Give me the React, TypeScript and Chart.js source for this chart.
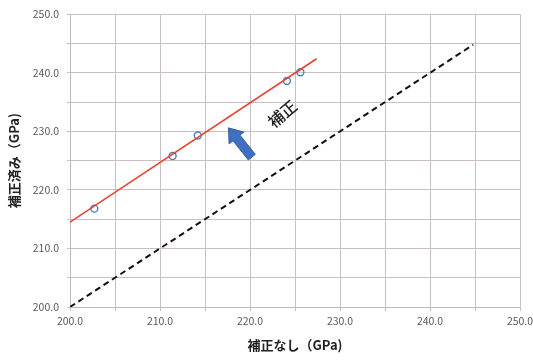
import React, { useEffect, useRef } from "react";
import { Chart, registerables } from "chart.js";

Chart.register(...registerables);

const measuredX = [202.7, 211.4, 214.2, 224.1, 225.6];
const measuredY = [216.8, 225.8, 229.3, 238.6, 240.1];
const fitX = [200, 227.4];
const fitY = [214.5, 242.4];
const identityX = [200, 244.8];
const identityY = [200, 244.8];
const arrowTail = [220.2, 225.6];
const arrowTip = [217.6, 230.6];
const labelPos = [223.6, 233.0];
const labelText = "補正";
const xTitle = "補正なし（GPa)";
const yTitle = "補正済み（GPa)";

const FONT = "'Noto Sans CJK JP', 'Noto Sans', sans-serif";

const arrowPlugin = {
  id: "arrowLabel",
  afterDatasetsDraw(chart: any) {
    const { ctx, scales } = chart;
    const xs = scales.x, ys = scales.y;
    const tx = xs.getPixelForValue(arrowTail[0]);
    const ty = ys.getPixelForValue(arrowTail[1]);
    const hx = xs.getPixelForValue(arrowTip[0]);
    const hy = ys.getPixelForValue(arrowTip[1]);
    const ang = Math.atan2(hy - ty, hx - tx);
    const len = Math.hypot(hx - tx, hy - ty);
    const headLen = 13;
    const headW = 9.5;
    const shaftW = 4.5;
    ctx.save();
    ctx.translate(tx, ty);
    ctx.rotate(ang);
    ctx.beginPath();
    ctx.moveTo(0, -shaftW);
    ctx.lineTo(len - headLen, -shaftW);
    ctx.lineTo(len - headLen, -headW);
    ctx.lineTo(len, 0);
    ctx.lineTo(len - headLen, headW);
    ctx.lineTo(len - headLen, shaftW);
    ctx.lineTo(0, shaftW);
    ctx.closePath();
    ctx.fillStyle = "#3f6fbf";
    ctx.fill();
    ctx.strokeStyle = "#2f5597";
    ctx.lineWidth = 0.8;
    ctx.stroke();
    ctx.restore();

    const lx = xs.getPixelForValue(labelPos[0]);
    const ly = ys.getPixelForValue(labelPos[1]);
    ctx.save();
    ctx.translate(lx, ly);
    ctx.rotate(-40 * Math.PI / 180);
    ctx.font = `500 16px ${FONT}`;
    ctx.fillStyle = "#222";
    ctx.textAlign = "center";
    ctx.textBaseline = "middle";
    ctx.fillText(labelText, 0, 0);
    ctx.restore();
  },
};

export default function App() {
  const ref = useRef<HTMLCanvasElement>(null);
  useEffect(() => {
    document.body.style.margin = "0";
    const chart = new Chart(ref.current!, {
      type: "scatter",
      data: {
        datasets: [
          {
            label: "identity",
            data: identityX.map((x, i) => ({ x, y: identityY[i] })),
            showLine: true,
            borderColor: "#111",
            borderWidth: 2,
            borderDash: [6, 4],
            pointRadius: 0,
          },
          {
            label: "fit",
            data: fitX.map((x, i) => ({ x, y: fitY[i] })),
            showLine: true,
            borderColor: "#e8432e",
            borderWidth: 1.6,
            pointRadius: 0,
          },
          {
            label: "measured",
            data: measuredX.map((x, i) => ({ x, y: measuredY[i] })),
            showLine: false,
            pointRadius: 3.5,
            pointBorderWidth: 1.4,
            pointBorderColor: "#4a7ebb",
            pointBackgroundColor: "rgba(255,255,255,0)",
          },
        ],
      },
      options: {
        animation: false,
        responsive: false,
        maintainAspectRatio: false,
        layout: { padding: { top: 12, right: 13, left: 6, bottom: 7 } },
        plugins: { legend: { display: false }, tooltip: { enabled: false } },
        scales: {
          x: {
            type: "linear",
            min: 200,
            max: 250,
            border: { color: "#c4b8b8", width: 1 },
            grid: { color: "#cbbfbf", lineWidth: 1, tickLength: 4, drawTicks: true },
            ticks: {
              stepSize: 5,
              autoSkip: false,
              maxRotation: 0,
              color: "#595959",
              font: { family: FONT, size: 10.5 },
              padding: 4,
              callback: (v: any) => (Number(v) % 10 === 0 ? Number(v).toFixed(1) : ""),
            },
            title: {
              display: true,
              text: xTitle,
              color: "#222",
              font: { family: FONT, size: 13, weight: "bold" },
              padding: { top: 4, bottom: 0 },
            },
            afterFit: (s: any) => {
              s.height = 46;
              s.paddingLeft = 0;
              s.paddingRight = 0;
            },
          },
          y: {
            type: "linear",
            min: 200,
            max: 250,
            border: { color: "#c4b8b8", width: 1 },
            grid: { color: "#cbbfbf", lineWidth: 1, tickLength: 3, drawTicks: true },
            ticks: {
              stepSize: 5,
              autoSkip: false,
              color: "#595959",
              font: { family: FONT, size: 10.5 },
              padding: 8,
              callback: (v: any) => (Number(v) % 10 === 0 ? Number(v).toFixed(1) : ""),
            },
            title: {
              display: true,
              text: yTitle,
              color: "#222",
              font: { family: FONT, size: 13, weight: "bold" },
              padding: { top: 0, bottom: 4 },
            },
            afterFit: (s: any) => { s.width = 64; },
          },
        },
      },
      plugins: [arrowPlugin],
    });
    return () => chart.destroy();
  }, []);
  return (
    <div style={{ width: 533, height: 360, background: "#fff" }}>
      <canvas ref={ref} width={533} height={360} style={{ display: "block" }} />
    </div>
  );
}
